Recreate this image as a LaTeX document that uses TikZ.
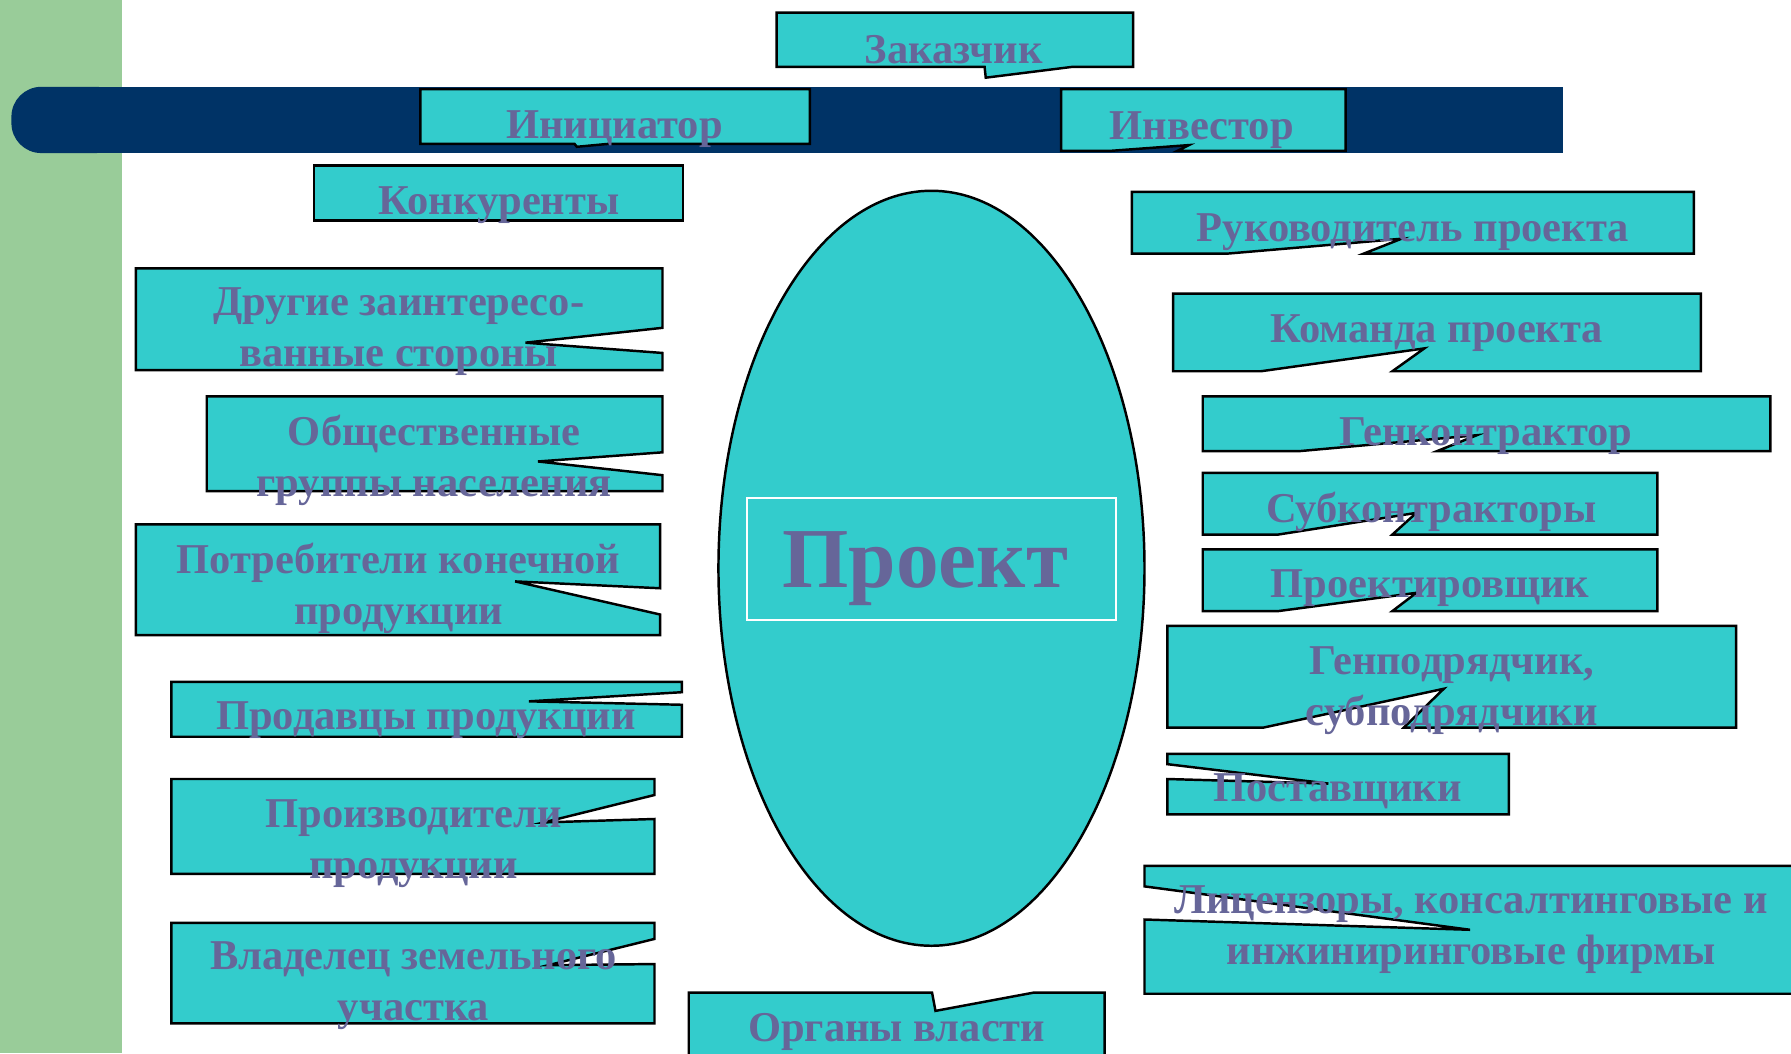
\documentclass[tikz,border=0pt]{standalone}
\usepackage{fontspec}
\setmainfont{Liberation Serif}
\definecolor{callcyan}{HTML}{33CCCC}
\definecolor{calltext}{HTML}{666699}
\definecolor{barnavy}{HTML}{003366}
\definecolor{sidegreen}{HTML}{99CC99}
\begin{document}
\begin{tikzpicture}[x=0.011422cm,y=-0.011422cm,
        part/.style={draw=black,fill=callcyan,line width=0.7pt,line join=miter},
        lbl/.style={text=calltext,font=\fontsize{12.1}{14.5}\selectfont\bfseries,align=center,inner sep=0pt},
        lblb/.style={lbl,anchor=base}
      ]
      \useasboundingbox (0,0) rectangle (1568,922);
      \fill[sidegreen] (0,0) rectangle (107,922);
      \fill[barnavy] (85,76) rectangle (1368,134);
      \fill[barnavy,rounded corners=8.5pt] (10,76) rectangle (110,134);
      \draw[part] (815.5,497.5) ellipse [x radius=186.5,y radius=330.5];
      \draw[white,line width=0.6pt] (654,436) rectangle (977,543);
      \node[lblb,font=\fontsize{24.3}{28}\selectfont\bfseries] (proekt) at (810,514) {Проект};

      \draw[part] (680,11) -- (992,11) -- (992,58.5) -- (939,58.5) -- (863,68) -- (862,58.5) -- (680,58.5) -- cycle;
      \node[lblb] (zakazchik) at (835,56) {Заказчик};
      \draw[part] (368,78) -- (709,78) -- (709,126) -- (532,126) -- (505,128.5) -- (503,126) -- (368,126) -- cycle;
      \node[lblb] (initsiator) at (538,121) {Инициатор};
      \draw[part] (929,78) -- (1178,78) -- (1178,132) -- (1031,132) -- (1041,127) -- (973,132) -- (929,132) -- cycle;
      \node[lblb] (investor) at (1052,122) {Инвестор};
      \draw[part] (275,145) rectangle (598,193);
      \node[lblb] (konkurenty) at (437,188) {Конкуренты};

      \draw[part] (991,168) -- (1483,168) -- (1483,222) -- (1194,222) -- (1227,209) -- (1075,222) -- (991,222) -- cycle;
      \node[lblb] (rukovoditel) at (1237,211) {Руководитель проекта};
      \draw[part] (1027,257) -- (1489,257) -- (1489,325) -- (1219,325) -- (1247,305) -- (1104,325) -- (1027,325) -- cycle;
      \node[lblb] (komanda) at (1258,300) {Команда проекта};
      \draw[part] (1053,347) -- (1550,347) -- (1550,395) -- (1258,395) -- (1293,381) -- (1137,395) -- (1053,395) -- cycle;
      \node[lblb] (genkontraktor) at (1301,390) {Генконтрактор};
      \draw[part] (1053,414) -- (1451,414) -- (1451,468) -- (1219,468) -- (1240,449) -- (1119,468) -- (1053,468) -- cycle;
      \node[lblb] (subkontraktory) at (1253,457) {Субконтракторы};
      \draw[part] (1053,481) -- (1451,481) -- (1451,535) -- (1219,535) -- (1240,519) -- (1119,535) -- (1053,535) -- cycle;
      \node[lblb] (proektirovshchik) at (1252,523) {Проектировщик};
      \draw[part] (1022,548) -- (1520,548) -- (1520,637) -- (1229,637) -- (1264,603) -- (1106,637) -- (1022,637) -- cycle;
      \node[lbl] (genpodryadchik) at (1271,605) {Генподрядчик,\\субподрядчики};
      \draw[part] (1022,660) -- (1321,660) -- (1321,713) -- (1022,713) -- (1022,682) -- (1163,686) -- (1022,669) -- cycle;
      \node[lblb] (postavshchiki) at (1171,702) {Поставщики};
      \draw[part] (1002,758) -- (1580,758) -- (1580,870) -- (1002,870) -- (1002,805) -- (1287,814) -- (1002,776) -- cycle;
      \node[lbl] (litsenzory) at (1288,814) {Лицензоры, консалтинговые и\\инжиниринговые фирмы};
      \draw[part] (603,869) -- (816,869) -- (819,885) -- (905,869) -- (967,869) -- (967,930) -- (603,930) -- cycle;
      \node[lblb] (organy) at (785,912) {Органы власти};

      \draw[part] (119,235) -- (580,235) -- (580,287) -- (460,300) -- (580,309) -- (580,324) -- (119,324) -- cycle;
      \node[lbl] (drugie) at (349,290.5) {Другие заинтересо-\\ванные стороны};
      \draw[part] (181,347) -- (580,347) -- (580,396) -- (471,404) -- (580,416) -- (580,430) -- (181,430) -- cycle;
      \node[lbl] (obshchestvennye) at (380,403) {Общественные\\группы населения};
      \draw[part] (119,459) -- (578,459) -- (578,515) -- (451,509) -- (578,538) -- (578,556) -- (119,556) -- cycle;
      \node[lbl] (potrebiteli) at (349,515) {Потребители конечной\\продукции};
      \draw[part] (150,597) -- (597,597) -- (597,606) -- (463,614) -- (597,617) -- (597,645) -- (150,645) -- cycle;
      \node[lblb] (prodavtsy) at (373,639) {Продавцы продукции};
      \draw[part] (150,682) -- (573,682) -- (573,696) -- (476,720) -- (573,717) -- (573,765) -- (150,765) -- cycle;
      \node[lbl] (proizvoditeli) at (362,738.5) {Производители\\продукции};
      \draw[part] (150,808) -- (573,808) -- (573,822) -- (480,845) -- (573,844) -- (573,896) -- (150,896) -- cycle;
      \node[lbl] (vladelets) at (362,863) {Владелец земельного\\участка};
\end{tikzpicture}
\end{document}
